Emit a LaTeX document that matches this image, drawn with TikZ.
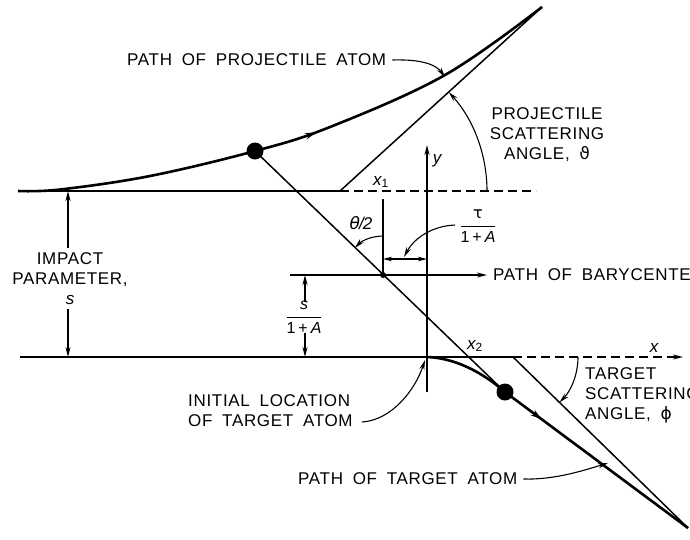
\documentclass[tikz,border=0pt]{standalone}
\usepackage{fontspec}
\setmainfont{Liberation Sans}[LetterSpace=4,WordSpace=1.8]
\newfontfamily\grk{DejaVu Sans}
\usetikzlibrary{arrows.meta,decorations.markings}
\begin{document}
\begin{tikzpicture}[x=1pt,y=-1pt,
  ln/.style={line width=1.5pt},
  thin leader/.style={line width=1.1pt},
  trajectory/.style={line width=2.6pt},
  tip/.style={-{Stealth[length=10pt,width=5pt]}},
  dtip/.style={{Stealth[length=9pt,width=4.5pt]}-{Stealth[length=9pt,width=4.5pt]}},
  dashline/.style={ln,dash pattern=on 9pt off 5pt},
  midarrow/.style={postaction={decorate},decoration={markings,mark=at position #1 with {\arrow{Stealth[length=11pt,width=6.5pt]}}}},
  lbl/.style={font=\fontsize{17}{20}\selectfont, inner sep=0pt},
  sym/.style={font=\fontsize{17}{20}\selectfont\itshape, inner sep=0pt},
  frac/.style={font=\fontsize{16}{18}\selectfont, inner sep=0pt},
  atom/.style={circle,fill=black,inner sep=0pt,minimum size=17pt},
  bary/.style={circle,fill=black,inner sep=0pt,minimum size=6pt}]
\useasboundingbox (0,0) rectangle (690,539);

% key points
\coordinate (L1a) at (18,191);
\coordinate (Cp) at (340,191);
\coordinate (L1b) at (536,191);
\coordinate (L2a) at (20,357);
\coordinate (O) at (427,357);
\coordinate (Ct) at (513,357);
\coordinate (L2b) at (683,357);
\coordinate (Ytop) at (427,145);
\coordinate (Ybot) at (427,392);
\coordinate (Pend) at (542,7);
\coordinate (Tend) at (688,528);
\coordinate (Ba) at (290,275);
\coordinate (Bb) at (487,275);
\coordinate (X1top) at (383,199);

\node[atom] (pa) at (255,151) {};
\node[atom] (ta) at (505,392) {};
\node[bary] (bc) at (383,275) {};

% horizontal reference lines
\draw[ln] (L1a) -- (Cp);
\draw[dashline] (Cp) -- (L1b);
\draw[ln] (L2a) -- (Ct);
\draw[dashline,tip] (Ct) -- (L2b);

% y axis
\draw[ln,tip] (Ybot) -- (Ytop);
\node[sym] (ylab) at (437,161) {y};
\node[sym] (xlab) at (654,348) {x};

% barycenter path
\draw[ln,tip] (Ba) -- (Bb);
\node[lbl,anchor=west] (bclab) at (493,275) {PATH OF BARYCENTER};

% line joining atoms
\draw[ln] (pa.center) -- (ta.center);

% x1 marker
\draw[ln] (X1top) -- (bc.center);
\node[sym] (x1lab) at (381,182) {x\textsubscript{\upshape 1}};
\node[sym] (x2lab) at (475,346) {x\textsubscript{\upshape 2}};

% projectile trajectory
\draw[trajectory,midarrow=0.54] plot[smooth,tension=0.6] coordinates
  {(L1a) (60,189.5) (150,176) (pa.center) (330,127) (445,75) (Pend)};
% projectile asymptote
\draw[ln] (Cp) -- (Pend);

% target trajectory
\draw[trajectory] (O) .. controls (455,358) and (482,372) .. (ta.center);
\draw[trajectory,midarrow=0.2] (ta.center) -- (Tend);
% target asymptote
\draw[ln] (Ct) -- (Tend);

% angle arcs
\draw[thin leader,tip] (487,191) arc[start angle=0,end angle=-42.3,radius=147];
\draw[thin leader,tip] (578,357) arc[start angle=0,end angle=44.3,radius=65];
\draw[thin leader,tip] (383,236) arc[start angle=-90,end angle=-136,radius=39];

% dimension arrows
\draw[ln,dtip] (383,259) -- (427,259);
\draw[ln,tip] (68,248) -- (68,191);
\draw[ln,tip] (68,309) -- (68,357);
\draw[ln,tip] (305,302) -- (305,275);
\draw[ln,tip] (305,333) -- (305,357);

% labels
\node[lbl,anchor=west] (ppa) at (127,60) {PATH OF PROJECTILE ATOM};
\draw[thin leader,tip] (ppa.east) ++(6,0) coordinate (ppal) .. controls (425,59) and (437,66) .. (445,77);

\node[lbl,align=center] (psa) at (547,135) {PROJECTILE\\SCATTERING\\ANGLE, {\grk ϑ}};
\node[lbl,align=left,anchor=west] (tsa) at (585,395) {TARGET\\SCATTERING\\ANGLE, {\grk ϕ}};
\node[lbl,align=center] (imp) at (70,279) {IMPACT\\PARAMETER,\\{\itshape s}};

\node[sym] (th2) at (361,223) {{\grk θ}\kern-1pt/\kern-1pt2};

\node[frac] (tau) at (478,226) {$\displaystyle\frac{\mbox{\grk τ}}{\mbox{1\hspace{3pt}+\hspace{3pt}\itshape A}}$};
\draw[thin leader,tip] (tau.west) ++(-4,-1) .. controls (430,226) and (413,240) .. (404,257);

\node[frac] (sfr) at (304,317) {$\displaystyle\frac{\mbox{\itshape s}}{\mbox{1\hspace{3pt}+\hspace{3pt}\itshape A}}$};

\node[lbl,align=left,anchor=west] (ila) at (188,411) {INITIAL LOCATION\\OF TARGET ATOM};
\draw[thin leader,tip] (362,422) .. controls (392,420) and (415,390) .. (425,360);

\node[lbl,anchor=west] (pta) at (298,479) {PATH OF TARGET ATOM};
\draw[thin leader,tip] (pta.east) ++(6,0) .. controls (555,480) and (585,470) .. (608,463);
\end{tikzpicture}
\end{document}
